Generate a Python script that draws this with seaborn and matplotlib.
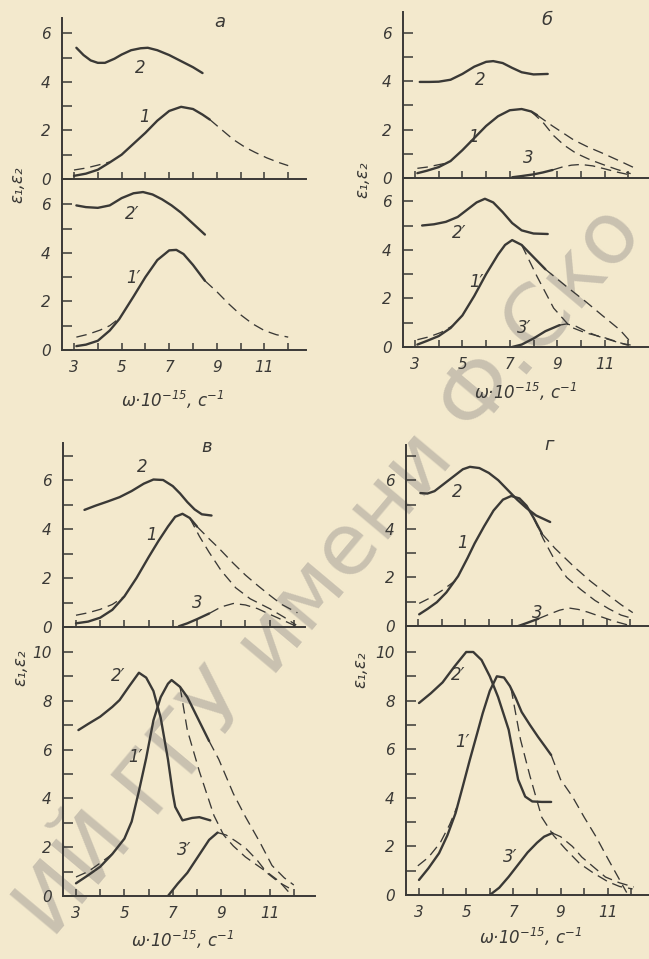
import matplotlib
matplotlib.use("Agg")
import matplotlib.pyplot as plt
import seaborn as sns

# ---- data (x = omega*1e-15, s^-1) ----
# panel a, upper
a2_x = [3.1, 3.4, 3.7, 4.0, 4.3, 4.7, 5.0, 5.4, 5.8, 6.1, 6.5, 7.0, 7.5, 8.0, 8.4]
a2_y = [5.4, 5.1, 4.88, 4.78, 4.78, 4.95, 5.12, 5.3, 5.38, 5.4, 5.3, 5.1, 4.85, 4.6, 4.36]
a1_x = [3.0, 3.5, 4.0, 4.5, 5.0, 5.5, 6.0, 6.5, 7.0, 7.5, 8.0, 8.4, 8.7]
a1_y = [0.13, 0.22, 0.38, 0.68, 1.0, 1.45, 1.9, 2.4, 2.8, 2.97, 2.88, 2.65, 2.45]
a1_start_x = [3.0, 3.5, 4.0, 4.5]
a1_start_y = [0.37, 0.45, 0.57, 0.7]
a1_tail_x = [8.7, 9.3, 9.7, 10.2, 10.6, 11.1, 11.6, 12.0]
a1_tail_y = [2.45, 1.95, 1.62, 1.3, 1.1, 0.87, 0.68, 0.55]
# panel a, lower
ap2_x = [3.1, 3.5, 4.0, 4.5, 5.0, 5.5, 5.9, 6.3, 6.7, 7.1, 7.5, 8.0, 8.5]
ap2_y = [5.95, 5.88, 5.85, 5.95, 6.25, 6.45, 6.5, 6.4, 6.2, 5.95, 5.65, 5.2, 4.75]
ap1_x = [3.1, 3.5, 4.0, 4.5, 4.9, 5.5, 6.0, 6.5, 7.0, 7.3, 7.6, 8.0, 8.5]
ap1_y = [0.16, 0.22, 0.38, 0.8, 1.27, 2.2, 3.0, 3.7, 4.1, 4.12, 3.95, 3.5, 2.85]
ap1_start_x = [3.1, 3.6, 4.1, 4.5, 4.9]
ap1_start_y = [0.53, 0.65, 0.82, 1.0, 1.3]
ap1_tail_x = [8.5, 9.0, 9.5, 10.0, 10.5, 11.0, 11.5, 12.0]
ap1_tail_y = [2.85, 2.4, 1.9, 1.45, 1.08, 0.8, 0.63, 0.53]

# panel b, upper
b2_x = [3.2, 3.6, 4.0, 4.5, 5.0, 5.5, 6.0, 6.3, 6.7, 7.1, 7.5, 8.0, 8.6]
b2_y = [3.97, 3.97, 3.98, 4.06, 4.3, 4.6, 4.8, 4.83, 4.75, 4.55, 4.37, 4.28, 4.3]
b1_x = [3.1, 3.5, 4.0, 4.5, 5.0, 5.5, 6.0, 6.5, 7.0, 7.5, 7.9, 8.15]
b1_y = [0.2, 0.3, 0.45, 0.7, 1.15, 1.65, 2.15, 2.55, 2.8, 2.85, 2.75, 2.6]
b1_start_x = [3.1, 3.5, 4.0, 4.4]
b1_start_y = [0.4, 0.45, 0.55, 0.63]
b1_hi_x = [8.15, 8.8, 9.7, 10.3, 10.9, 11.6, 12.3]
b1_hi_y = [2.6, 2.15, 1.57, 1.28, 1.03, 0.72, 0.4]
b1_lo_x = [7.9, 8.4, 8.85, 9.3, 9.8, 10.4, 10.95, 11.5, 12.1]
b1_lo_y = [2.75, 2.3, 1.75, 1.35, 1.02, 0.75, 0.55, 0.36, 0.18]
b3_x = [7.1, 7.5, 8.0, 8.4, 8.8]
b3_y = [0.03, 0.08, 0.15, 0.23, 0.33]
b3_tail_x = [8.8, 9.2, 9.6, 10.0, 10.5, 11.0, 11.5, 12.2]
b3_tail_y = [0.33, 0.45, 0.53, 0.56, 0.5, 0.38, 0.25, 0.1]
# panel b, lower
bp2_x = [3.3, 3.8, 4.3, 4.8, 5.2, 5.6, 5.95, 6.3, 6.7, 7.1, 7.5, 8.0, 8.6]
bp2_y = [5.0, 5.05, 5.15, 5.35, 5.65, 5.95, 6.1, 5.95, 5.55, 5.1, 4.8, 4.67, 4.65]
bp1_x = [3.1, 3.5, 4.0, 4.5, 5.0, 5.5, 6.0, 6.5, 6.8, 7.1, 7.5, 8.0, 8.5]
bp1_y = [0.1, 0.25, 0.45, 0.78, 1.3, 2.1, 3.0, 3.8, 4.2, 4.4, 4.2, 3.7, 3.2]
bp1_start_x = [3.1, 3.6, 4.1, 4.6]
bp1_start_y = [0.3, 0.42, 0.6, 0.88]
bp1_hi_x = [8.5, 9.0, 9.4, 10.2, 10.9, 11.65, 12.15]
bp1_hi_y = [3.2, 2.8, 2.48, 1.87, 1.3, 0.7, 0.15]
bp1_lo_x = [7.5, 8.15, 8.85, 9.55, 10.2, 10.95, 11.95]
bp1_lo_y = [4.2, 2.9, 1.6, 0.83, 0.58, 0.4, 0.08]
bp3_x = [7.1, 7.5, 8.0, 8.5, 9.1]
bp3_y = [0.0, 0.1, 0.35, 0.65, 0.9]
bp3_tail_x = [9.1, 9.4, 9.8, 10.2, 10.7, 11.2, 11.7, 12.1]
bp3_tail_y = [0.9, 0.95, 0.85, 0.65, 0.45, 0.3, 0.15, 0.08]

# panel v, upper
c2_x = [3.35, 3.8, 4.3, 4.8, 5.3, 5.8, 6.2, 6.6, 7.0, 7.3, 7.6, 7.9, 8.2, 8.6]
c2_y = [4.78, 4.95, 5.12, 5.3, 5.55, 5.85, 6.02, 6.0, 5.75, 5.45, 5.1, 4.8, 4.6, 4.55]
c1_x = [3.0, 3.5, 4.0, 4.5, 5.0, 5.5, 6.0, 6.4, 6.8, 7.1, 7.4, 7.7, 8.0]
c1_y = [0.15, 0.22, 0.38, 0.7, 1.25, 2.0, 2.85, 3.5, 4.1, 4.5, 4.62, 4.45, 4.1]
c1_start_x = [3.0, 3.5, 4.0, 4.5, 5.0]
c1_start_y = [0.48, 0.58, 0.72, 0.92, 1.25]
c1_hi_x = [8.0, 8.5, 8.9, 9.5, 10.0, 10.5, 11.0, 11.5, 12.15]
c1_hi_y = [4.1, 3.6, 3.22, 2.6, 2.12, 1.7, 1.3, 0.92, 0.58]
c1_lo_x = [7.7, 8.1, 8.5, 9.0, 9.6, 10.2, 11.0, 11.6, 12.1]
c1_lo_y = [4.45, 3.7, 3.05, 2.3, 1.6, 1.15, 0.75, 0.4, 0.08]
c3_x = [7.25, 7.6, 8.0, 8.5]
c3_y = [0.03, 0.15, 0.32, 0.55]
c3_tail_x = [8.5, 9.0, 9.5, 10.0, 10.5, 11.0, 11.5, 12.1]
c3_tail_y = [0.55, 0.82, 0.96, 0.9, 0.75, 0.52, 0.3, 0.03]
# panel v, lower
cp2_x = [3.1, 3.5, 4.0, 4.5, 4.8, 5.2, 5.6, 5.9, 6.2, 6.5, 6.8, 7.0, 7.1, 7.4, 7.8, 8.1, 8.55]
cp2_y = [6.8, 7.05, 7.35, 7.75, 8.03, 8.6, 9.15, 8.95, 8.4, 7.3, 5.6, 4.2, 3.65, 3.1, 3.2, 3.23, 3.1]
cp1_x = [3.0, 3.5, 4.0, 4.5, 5.0, 5.3, 5.6, 5.9, 6.2, 6.5, 6.8, 6.95, 7.3, 7.6, 8.0, 8.5]
cp1_y = [0.52, 0.85, 1.2, 1.72, 2.35, 3.05, 4.3, 5.65, 7.2, 8.15, 8.7, 8.85, 8.57, 8.15, 7.35, 6.35]
cp1_start_x = [3.0, 3.5, 4.0, 4.5]
cp1_start_y = [0.78, 1.0, 1.35, 1.72]
cp1_hi_x = [8.5, 8.9, 9.5, 10.0, 10.6, 11.1, 11.6, 12.0]
cp1_hi_y = [6.35, 5.6, 4.2, 3.25, 2.2, 1.25, 0.75, 0.45]
cp1_lo_x = [7.3, 7.6, 8.1, 8.7, 9.1, 9.5, 10.0, 10.5, 11.0, 11.4, 11.8]
cp1_lo_y = [8.57, 6.8, 5.1, 3.3, 2.5, 2.05, 1.6, 1.25, 0.9, 0.6, 0.15]
cp3_x = [6.8, 7.2, 7.6, 7.9, 8.2, 8.5, 8.85]
cp3_y = [0.0, 0.5, 0.95, 1.4, 1.85, 2.3, 2.6]
cp3_tail_x = [8.85, 9.2, 9.6, 10.0, 10.5, 10.9, 11.4, 11.8]
cp3_tail_y = [2.6, 2.5, 2.25, 1.97, 1.45, 0.94, 0.55, 0.33]

# panel g, upper
d2_x = [3.1, 3.4, 3.7, 4.1, 4.5, 4.9, 5.2, 5.6, 6.0, 6.4, 6.8, 7.2, 7.6, 8.0, 8.6]
d2_y = [5.47, 5.45, 5.55, 5.85, 6.15, 6.45, 6.55, 6.5, 6.3, 6.0, 5.6, 5.2, 4.85, 4.55, 4.28]
d1_x = [3.05, 3.4, 3.8, 4.2, 4.7, 5.1, 5.4, 5.8, 6.2, 6.6, 6.95, 7.3, 7.6, 7.9, 8.25]
d1_y = [0.48, 0.7, 0.98, 1.38, 2.05, 2.8, 3.4, 4.1, 4.75, 5.2, 5.35, 5.25, 4.95, 4.45, 3.8]
d1_start_x = [3.05, 3.5, 4.0, 4.6]
d1_start_y = [0.93, 1.15, 1.45, 1.88]
d1_hi_x = [8.25, 8.8, 9.6, 10.3, 11.0, 11.6, 12.1]
d1_hi_y = [3.8, 3.2, 2.45, 1.85, 1.32, 0.88, 0.55]
d1_lo_x = [7.9, 8.3, 8.8, 9.3, 9.9, 10.5, 11.1, 11.6, 11.95]
d1_lo_y = [4.45, 3.6, 2.7, 2.0, 1.5, 1.05, 0.7, 0.45, 0.35]
d3_x = [7.25, 7.6, 8.1]
d3_y = [0.0, 0.12, 0.3]
d3_tail_x = [8.1, 8.6, 9.0, 9.4, 9.8, 10.2, 10.7, 11.3, 11.9]
d3_tail_y = [0.3, 0.5, 0.65, 0.74, 0.68, 0.57, 0.4, 0.2, 0.04]
# panel g, lower
dp2_x = [3.0, 3.5, 4.0, 4.5, 5.0, 5.3, 5.65, 6.0, 6.35, 6.8, 7.2, 7.5, 7.8, 8.2, 8.6]
dp2_y = [7.9, 8.3, 8.75, 9.4, 10.0, 10.0, 9.67, 9.0, 8.15, 6.8, 4.75, 4.05, 3.85, 3.83, 3.83]
dp1_x = [3.0, 3.4, 3.85, 4.2, 4.55, 4.85, 5.15, 5.45, 5.7, 6.0, 6.3, 6.6, 6.85, 7.1, 7.35, 7.7, 8.05, 8.35, 8.6]
dp1_y = [0.62, 1.1, 1.72, 2.45, 3.37, 4.45, 5.55, 6.6, 7.48, 8.4, 9.0, 8.95, 8.6, 8.1, 7.53, 7.0, 6.5, 6.1, 5.76]
dp1_start_x = [2.95, 3.4, 3.9, 4.3, 4.6]
dp1_start_y = [1.2, 1.55, 2.15, 2.9, 3.6]
dp1_hi_x = [8.6, 9.0, 9.5, 10.0, 10.5, 11.0, 11.4, 11.8]
dp1_hi_y = [5.76, 4.75, 4.05, 3.2, 2.4, 1.5, 0.8, 0.1]
dp1_lo_x = [6.9, 7.3, 7.7, 8.2, 8.7, 9.2, 9.8, 10.4, 11.0, 11.5, 12.05]
dp1_lo_y = [8.5, 6.4, 4.9, 3.2, 2.45, 1.9, 1.3, 0.9, 0.55, 0.35, 0.25]
dp3_x = [6.0, 6.4, 6.8, 7.2, 7.6, 8.0, 8.3, 8.65]
dp3_y = [0.0, 0.3, 0.75, 1.25, 1.75, 2.15, 2.4, 2.55]
dp3_tail_x = [8.65, 9.0, 9.5, 9.9, 10.4, 10.9, 11.5, 12.1]
dp3_tail_y = [2.55, 2.4, 2.0, 1.56, 1.15, 0.74, 0.5, 0.33]

x_ticks = [3, 4, 5, 6, 7, 8, 9, 10, 11, 12]
panel_letters = ["а", "б", "в", "г"]
y_label = "ε₁,ε₂"
x_label = "ω·10$^{-15}$, с$^{-1}$"
watermark = "ИЙ ГГУ имени Ф.Ско"

# ---- style ----
sns.set_style("ticks")
plt.rcParams['font.family'] = ['DejaVu Sans']
plt.rcParams['font.style'] = 'italic'
plt.rcParams['mathtext.fontset'] = 'dejavusans'
plt.rcParams['mathtext.default'] = 'it'

PAPER = '#f3e9cd'
INK = '#3a3936'
W, H = 649, 959
SOLID_LW = 1.7
DASH_LW = 0.95
DASH = (0, (8, 4.5))

fig = plt.figure(figsize=(W / 100, H / 100), dpi=100, facecolor=PAPER)


def make_axes(left, right, top, bottom, x3, xunit, yunit, show_x):
    ax = fig.add_axes([left / W, 1 - bottom / H, (right - left) / W, (bottom - top) / H])
    ax.set_facecolor('none')
    ax._lims = ((3 + (left - x3) / xunit, 3 + (right - x3) / xunit),
                (0, (bottom - top) / yunit))
    ax._show_x = show_x
    return ax


def finish(ax):
    ax.set_xlim(*ax._lims[0])
    ax.set_ylim(*ax._lims[1])
    ymax = ax._lims[1][1]
    yt = [t for t in range(0, 13) if t < ymax - 0.15]
    ax.set_yticks(yt)
    ax.set_yticklabels([str(t) if t % 2 == 0 else '' for t in yt])
    ax.set_xticks(x_ticks)
    if ax._show_x:
        ax.set_xticklabels([str(t) if t % 2 == 1 else '' for t in x_ticks])
    else:
        ax.set_xticklabels([])
    for s in ['top', 'right']:
        ax.spines[s].set_visible(False)
    for s in ['left', 'bottom']:
        ax.spines[s].set_linewidth(1.4)
        ax.spines[s].set_color(INK)
    ax.tick_params(axis='y', direction='in', length=7, width=1.1, colors=INK,
                   labelsize=11, pad=8)
    ax.tick_params(axis='x', direction='in', length=5, width=1.1, colors=INK,
                   labelsize=11, pad=7)
    ax.set_xlabel('')
    ax.set_ylabel('')


def solid(ax, x, y):
    sns.lineplot(x=x, y=y, ax=ax, color=INK, lw=SOLID_LW, sort=False, estimator=None)


def dashed(ax, x, y):
    sns.lineplot(x=x, y=y, ax=ax, color=INK, lw=DASH_LW, linestyle=DASH,
                 sort=False, estimator=None)


def label(ax, x, y, s):
    ax.text(x, y, s, fontsize=12, color=INK, ha='center', va='center')


# panel a
ax = make_axes(62, 306, 18, 179, 74, 23.8, 24.3, False)
solid(ax, a2_x, a2_y)
solid(ax, a1_x, a1_y)
dashed(ax, a1_start_x, a1_start_y)
dashed(ax, a1_tail_x, a1_tail_y)
label(ax, 5.8, 4.55, "2")
label(ax, 5.95, 2.55, "1")
finish(ax)

ax = make_axes(62, 306, 179, 350, 74, 23.8, 24.3, True)
solid(ax, ap2_x, ap2_y)
solid(ax, ap1_x, ap1_y)
dashed(ax, ap1_start_x, ap1_start_y)
dashed(ax, ap1_tail_x, ap1_tail_y)
label(ax, 5.45, 5.6, "2′")
label(ax, 5.5, 2.95, "1′")
finish(ax)

# panel b
ax = make_axes(403, 649, 12, 178, 415, 23.7, 24.2, False)
solid(ax, b2_x, b2_y)
solid(ax, b1_x, b1_y)
dashed(ax, b1_start_x, b1_start_y)
dashed(ax, b1_hi_x, b1_hi_y)
dashed(ax, b1_lo_x, b1_lo_y)
solid(ax, b3_x, b3_y)
dashed(ax, b3_tail_x, b3_tail_y)
label(ax, 5.75, 4.05, "2")
label(ax, 5.45, 1.7, "1")
label(ax, 7.8, 0.82, "3")
finish(ax)

ax = make_axes(403, 649, 178, 347, 415, 23.7, 24.3, True)
solid(ax, bp2_x, bp2_y)
solid(ax, bp1_x, bp1_y)
dashed(ax, bp1_start_x, bp1_start_y)
dashed(ax, bp1_hi_x, bp1_hi_y)
dashed(ax, bp1_lo_x, bp1_lo_y)
solid(ax, bp3_x, bp3_y)
dashed(ax, bp3_tail_x, bp3_tail_y)
label(ax, 4.85, 4.7, "2′")
label(ax, 5.6, 2.67, "1′")
label(ax, 7.6, 0.8, "3′")
finish(ax)

# panel v
ax = make_axes(63, 305, 443, 627, 76, 24.2, 24.5, False)
solid(ax, c2_x, c2_y)
solid(ax, c1_x, c1_y)
dashed(ax, c1_start_x, c1_start_y)
dashed(ax, c1_hi_x, c1_hi_y)
dashed(ax, c1_lo_x, c1_lo_y)
solid(ax, c3_x, c3_y)
dashed(ax, c3_tail_x, c3_tail_y)
label(ax, 5.75, 6.55, "2")
label(ax, 6.1, 3.75, "1")
label(ax, 8.0, 1.0, "3")
finish(ax)

ax = make_axes(63, 315, 627, 896, 76, 24.2, 24.4, True)
solid(ax, cp2_x, cp2_y)
solid(ax, cp1_x, cp1_y)
dashed(ax, cp1_start_x, cp1_start_y)
dashed(ax, cp1_hi_x, cp1_hi_y)
dashed(ax, cp1_lo_x, cp1_lo_y)
solid(ax, cp3_x, cp3_y)
dashed(ax, cp3_tail_x, cp3_tail_y)
label(ax, 4.75, 9.0, "2′")
label(ax, 5.45, 5.7, "1′")
label(ax, 7.45, 1.9, "3′")
finish(ax)

# panel g
ax = make_axes(406, 649, 445, 626, 418, 23.6, 24.3, False)
solid(ax, d2_x, d2_y)
solid(ax, d1_x, d1_y)
dashed(ax, d1_start_x, d1_start_y)
dashed(ax, d1_hi_x, d1_hi_y)
dashed(ax, d1_lo_x, d1_lo_y)
solid(ax, d3_x, d3_y)
dashed(ax, d3_tail_x, d3_tail_y)
label(ax, 4.65, 5.5, "2")
label(ax, 4.9, 3.4, "1")
label(ax, 8.05, 0.53, "3")
finish(ax)

ax = make_axes(406, 649, 626, 895, 419, 23.6, 24.3, True)
solid(ax, dp2_x, dp2_y)
solid(ax, dp1_x, dp1_y)
dashed(ax, dp1_start_x, dp1_start_y)
dashed(ax, dp1_hi_x, dp1_hi_y)
dashed(ax, dp1_lo_x, dp1_lo_y)
solid(ax, dp3_x, dp3_y)
dashed(ax, dp3_tail_x, dp3_tail_y)
label(ax, 4.65, 9.05, "2′")
label(ax, 4.85, 6.3, "1′")
label(ax, 6.85, 1.56, "3′")
finish(ax)


def ftext(xp, yp, s, **kw):
    fig.text(xp / W, 1 - yp / H, s, color=INK, ha='center', va='center', **kw)


for (xp, yp), s in zip([(220, 22), (547, 20), (207, 447), (549, 445)], panel_letters):
    ftext(xp, yp, s, fontsize=13)
for xp, yp in [(17, 185), (362, 180), (20, 668), (360, 670)]:
    ftext(xp, yp, y_label, fontsize=12, rotation=90)
for xp, yp in [(172, 400), (525, 392), (182, 940), (530, 937)]:
    ftext(xp, yp, x_label, fontsize=12)

# library stamp running diagonally across the scan
fig.text(52 / W, 1 - 940 / H, watermark, rotation=50, rotation_mode='anchor',
         ha='left', va='baseline', fontsize=62, family='DejaVu Sans',
         style='normal', color='#bbb4a6', alpha=0.75, zorder=-1)

fig.savefig("out.png", dpi=100, facecolor=PAPER)
